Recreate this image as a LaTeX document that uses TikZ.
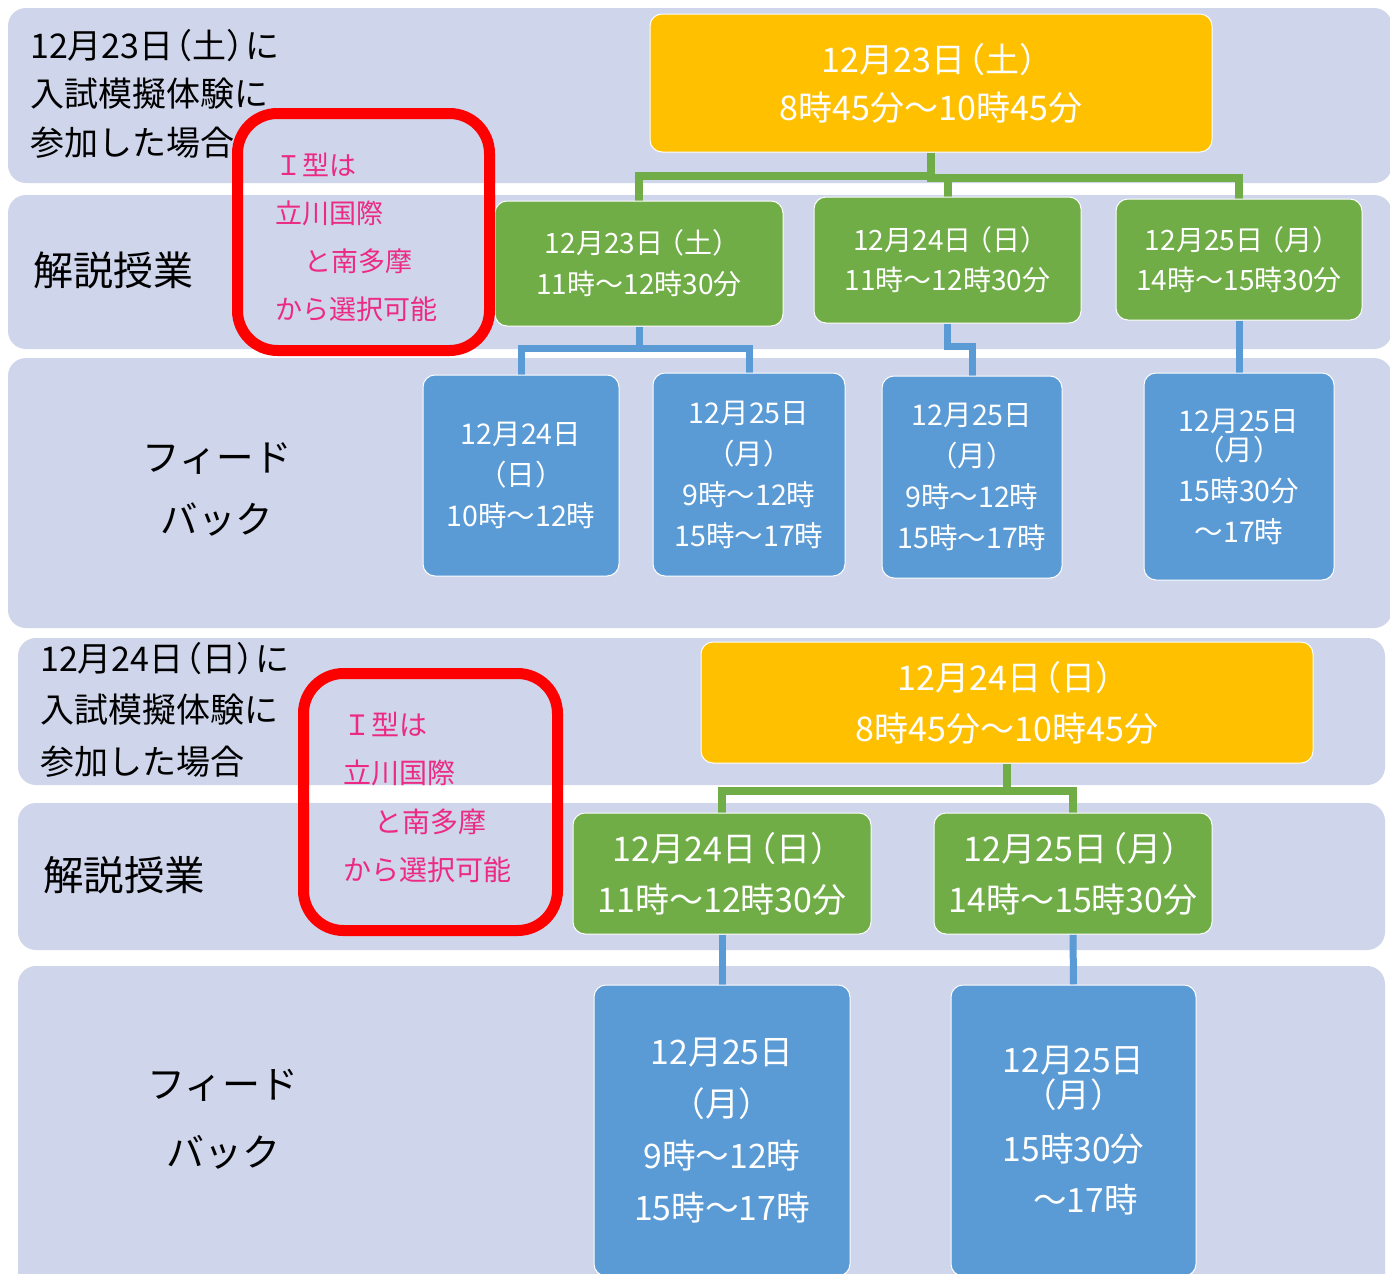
\documentclass[tikz,border=0pt]{standalone}
\usepackage{fontspec}
\setmainfont{Noto Sans CJK JP}
\definecolor{bandc}{HTML}{CFD5EA}
\definecolor{yel}{HTML}{FFC000}
\definecolor{grn}{HTML}{70AD47}
\definecolor{blu}{HTML}{5B9BD5}
\definecolor{redc}{HTML}{FF0000}
\definecolor{pnk}{HTML}{EC2A85}
\newcommand\lp[1]{\kern-#1em（}
\newcommand\rp[1]{）\kern-#1em}
\pgfdeclarelayer{back}
\pgfdeclarelayer{mid}
\pgfsetlayers{back,mid,main}
\tikzset{
  band/.style={fill=bandc, rounded corners=18pt},
  boxbase/.style={draw=white, line width=1pt, rounded corners=12pt, text=white, align=center, inner sep=0pt},
  ybox/.style={boxbase, fill=yel},
  gbox/.style={boxbase, fill=grn},
  bbox/.style={boxbase, fill=blu},
  gline/.style={draw=grn, line width=8pt},
  bline/.style={draw=blu, line width=7pt},
  redbox/.style={draw=redc, line width=11pt, rounded corners=40pt, inner sep=0pt},
  pinktxt/.style={text=pnk, align=left, inner sep=0pt},
  lbl/.style={text=black, align=left, inner sep=0pt},
  lblc/.style={text=black, align=center, inner sep=0pt},
}
\begin{document}
\begin{tikzpicture}[x=1pt,y=-1pt]
\clip (0,0) rectangle (1390,1274);
\useasboundingbox (0,0) rectangle (1390,1274);
\begin{pgfonlayer}{back}
\fill[white] (0,0) rectangle (1390,1274);
\fill[band] (8,8) rectangle (1392,183);
\fill[band] (8,195) rectangle (1392,349);
\fill[band] (8,358) rectangle (1392,628);
\fill[band] (18,638) rectangle (1385,785);
\fill[band] (18,803) rectangle (1385,950);
\fill[band] (18,966) rectangle (1385,1310);
\end{pgfonlayer}

% upper part
\node[ybox, minimum width=562pt, minimum height=138pt, font=\fontsize{34}{48}\selectfont] (Y1) at (931,83) {12月23日\lp{.4}土\rp{.4}\\8時45分～10時45分};
\node[gbox, minimum width=288pt, minimum height=125pt, font=\fontsize{28}{41}\selectfont] (G1) at (639,263.5) {12月23日\lp{.25}土\rp{.25}\\11時～12時30分};
\node[gbox, minimum width=267pt, minimum height=126pt, font=\fontsize{28}{40}\selectfont] (G2) at (947.5,260) {12月24日\lp{.25}日\rp{.25}\\11時～12時30分};
\node[gbox, minimum width=246pt, minimum height=121pt, font=\fontsize{28}{40}\selectfont] (G3) at (1239,259.5) {12月25日\lp{.25}月\rp{.25}\\14時～15時30分};
\node[bbox, minimum width=196pt, minimum height=201pt, font=\fontsize{28.5}{41}\selectfont] (B1) at (521,475.5) {12月24日\\（日）\\10時～12時};
\node[bbox, minimum width=192pt, minimum height=203pt, font=\fontsize{28.5}{41}\selectfont] (B2) at (749,474.5) {12月25日\\（月）\\9時～12時\\15時～17時};
\node[bbox, minimum width=180pt, minimum height=202pt, font=\fontsize{28.5}{41}\selectfont] (B3) at (972,477) {12月25日\\（月）\\9時～12時\\15時～17時};
\node[bbox, minimum width=190pt, minimum height=207pt, font=\fontsize{28.5}{41}\selectfont] (B4) at (1239,476.5) {12月25日\\[-12pt]（月）\\15時30分\\～17時};

% lower part
\node[ybox, minimum width=612pt, minimum height=121pt, font=\fontsize{34}{51}\selectfont] (Y2) at (1007,702.5) {12月24日\lp{.4}日\rp{.4}\\8時45分～10時45分};
\node[gbox, minimum width=298pt, minimum height=121pt, font=\fontsize{34}{51}\selectfont] (G4) at (722,873.5) {12月24日\lp{.4}日\rp{.4}\\11時～12時30分};
\node[gbox, minimum width=278pt, minimum height=121pt, font=\fontsize{34}{51}\selectfont] (G5) at (1073,873.5) {12月25日\lp{.4}月\rp{.4}\\14時～15時30分};
\node[bbox, minimum width=256pt, minimum height=291pt, font=\fontsize{33.7}{52}\selectfont] (B5) at (722,1130.5) {12月25日\\（月）\\9時～12時\\15時～17時};
\node[bbox, minimum width=245pt, minimum height=291pt, font=\fontsize{33.5}{52}\selectfont] (B6) at (1073.5,1130.5) {12月25日\\[-17pt]（月）\\[2pt]15時30分\\[-1pt]\hspace*{24pt}～17時};

\begin{pgfonlayer}{mid}
\draw[gline] (Y1.south) -- ++(0,23) -| (G1.north);
\draw[gline] (Y1.south) -- ++(0,25) -| (G2.north);
\draw[gline] (Y1.south) -- ++(0,25) -| (G3.north);
\draw[bline] (G1.south) -- ++(0,22) -| (B1.north);
\draw[bline] (G1.south) -- ++(0,22) -| (B2.north);
\draw[bline] (G2.south) -- ++(0,23) -| (B3.north);
\draw[bline] (G3.south) -- (B4.north);
\draw[gline] (Y2.south) -- ++(0,27) -| (G4.north);
\draw[gline] (Y2.south) -- ++(0,27) -| (G5.north);
\draw[bline] (G4.south) -- (B5.north);
\draw[bline] (G5.south) -- (B6.north);
\end{pgfonlayer}

% left labels
\node[lbl, anchor=west, font=\fontsize{34}{48.5}\selectfont] (L1) at (30,93.5) {12月23日\lp{.45}土\rp{.45}に\\入試模擬体験に\\参加した場合};
\node[lbl, anchor=west, font=\fontsize{40}{48}\selectfont] (S1) at (33,270) {解説授業};
\node[lblc, font=\fontsize{37.5}{62}\selectfont] (F1) at (217,489) {フィード\\バック};
\node[lbl, anchor=west, font=\fontsize{34}{51.5}\selectfont] (L2) at (40,709.5) {12月24日\lp{.45}日\rp{.45}に\\入試模擬体験に\\参加した場合};
\node[lbl, anchor=west, font=\fontsize{40.5}{48}\selectfont] (S2) at (43,875) {解説授業};
\node[lblc, font=\fontsize{38}{68}\selectfont] (F2) at (223,1119) {フィード\\バック};

% red boxes with pink text
\node[redbox, minimum width=252pt, minimum height=237pt] (R1) at (363.5,232) {};
\node[pinktxt, anchor=west, font=\fontsize{27}{48}\selectfont] (P1) at (275,237) {Ｉ型は\\立川国際\\\hspace*{1.1em}と南多摩\\から選択可能};
\node[redbox, minimum width=254pt, minimum height=257pt] (R2) at (430.5,802) {};
\node[pinktxt, anchor=west, font=\fontsize{28}{48.3}\selectfont] (P2) at (343,797.5) {Ｉ型は\\立川国際\\\hspace*{1.1em}と南多摩\\から選択可能};
\end{tikzpicture}
\end{document}
